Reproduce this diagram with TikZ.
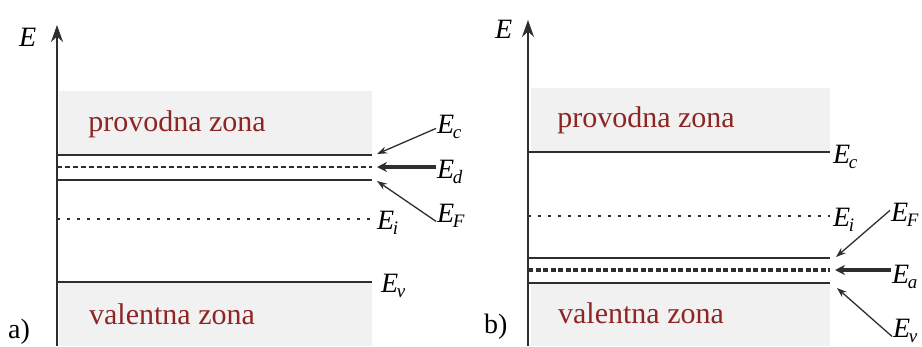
\documentclass[tikz,border=0pt]{standalone}
\usepackage{fontspec}
\setmainfont{Liberation Serif}
\usetikzlibrary{arrows.meta}
\definecolor{zonegray}{HTML}{F1F1F1}
\definecolor{zonered}{HTML}{8E2525}
\definecolor{linegray}{HTML}{2E2E2E}
\newcommand\elev[1]{\textit{E}\kern-1.5pt\raisebox{-5pt}{\fontsize{19}{22}\selectfont\itshape #1}}
\begin{document}
\begin{tikzpicture}[x=1pt,y=-1pt,
  zone/.style={fill=zonegray,draw=none},
  level/.style={line width=1.7pt,draw=linegray},
  dlevel/.style={line width=1.7pt,draw=linegray,dash pattern=on 5pt off 3pt},
  alevel/.style={line width=3.2pt,draw=linegray,dash pattern=on 5pt off 2.5pt},
  ilevel/.style={line width=1.2pt,draw=linegray,dash pattern=on 3pt off 7pt},
  axis/.style={line width=2.2pt,draw=linegray,-{Stealth[length=17pt,width=12pt]}},
  zonetext/.style={text=zonered,font=\fontsize{30}{34}\selectfont,inner sep=0pt},
  elabel/.style={font=\fontsize{28}{32}\selectfont,inner sep=1pt,anchor=base west},
  panel/.style={font=\fontsize{28}{32}\selectfont,inner sep=0pt,anchor=base west},
  ptr/.style={line width=1.3pt,draw=linegray,-{Stealth[length=10pt,width=7pt]}},
  thickptr/.style={line width=3.2pt,draw=linegray,-{Stealth[length=10pt,width=10pt]}}]
\useasboundingbox (0,0) rectangle (922,346);

% ---------- panel a ----------
\fill[zone] (59,91) rectangle (372,155);
\fill[zone] (59,282) rectangle (372,346);
\coordinate (aAx0) at (57,346);
\coordinate (aAx1) at (57,25);
\draw[axis] (aAx0) -- (aAx1);
\node[elabel] (aE) at (18,46) {\textit{E}};

\coordinate (aC0) at (57,155); \coordinate (aC1) at (372,155);
\coordinate (aD0) at (57,167); \coordinate (aD1) at (372,167);
\coordinate (aF0) at (57,180); \coordinate (aF1) at (372,180);
\coordinate (aI0) at (57,219); \coordinate (aI1) at (372,219);
\coordinate (aV0) at (57,282); \coordinate (aV1) at (372,282);
\draw[level] (aC0) -- (aC1);
\draw[dlevel] (aD0) -- (aD1);
\draw[level] (aF0) -- (aF1);
\draw[ilevel] (aI0) -- (aI1);
\draw[level] (aV0) -- (aV1);

\node[zonetext] (aCB) at (177,124) {provodna zona};
\node[zonetext] (aVB) at (172,314) {valentna zona};

\node[elabel] (aEc) at (436,133) {\elev{c}};
\node[elabel] (aEd) at (436,178) {\elev{d}};
\node[elabel] (aEF) at (436,222) {\elev{F}};
\node[elabel] (aEi) at (376,229) {\elev{i}};
\node[elabel] (aEv) at (380,292) {\elev{v}};

\coordinate (aCt) at (377,154);
\coordinate (aDt) at (377,167);
\coordinate (aFt) at (377,181);
\draw[ptr] ([yshift=-2pt]aEc.west) -- (aCt);
\draw[thickptr] (aEd.west |- aDt) -- (aDt);
\draw[ptr] ([yshift=-6pt]aEF.west) -- (aFt);

\node[panel] (aLab) at (8,338) {a)};

% ---------- panel b ----------
\fill[zone] (531,88) rectangle (830,152);
\fill[zone] (531,283) rectangle (830,346);
\coordinate (bAx0) at (528,346);
\coordinate (bAx1) at (528,20);
\draw[axis] (bAx0) -- (bAx1);
\node[elabel] (bE) at (494,38) {\textit{E}};

\coordinate (bC0) at (528,152); \coordinate (bC1) at (830,152);
\coordinate (bI0) at (528,216); \coordinate (bI1) at (830,216);
\coordinate (bF0) at (528,258); \coordinate (bF1) at (830,258);
\coordinate (bA0) at (528,270); \coordinate (bA1) at (830,270);
\coordinate (bV0) at (528,283); \coordinate (bV1) at (830,283);
\draw[level] (bC0) -- (bC1);
\draw[ilevel] (bI0) -- (bI1);
\draw[level] (bF0) -- (bF1);
\draw[alevel] (bA0) -- (bA1);
\draw[level] (bV0) -- (bV1);

\node[zonetext] (bCB) at (646,120) {provodna zona};
\node[zonetext] (bVB) at (641,313) {valentna zona};

\node[elabel] (bEc) at (832,163) {\elev{c}};
\node[elabel] (bEi) at (832,226) {\elev{i}};
\node[elabel] (bEF) at (890,221) {\elev{F}};
\node[elabel] (bEa) at (891,283) {\elev{a}};
\node[elabel] (bEv) at (892,337) {\elev{v}};

\coordinate (bFt) at (836,257);
\coordinate (bAt) at (835,270);
\coordinate (bVt) at (837,288);
\draw[ptr] ([yshift=4pt]bEF.west) -- (bFt);
\draw[thickptr] (bEa.west |- bAt) -- (bAt);
\draw[ptr] ([yshift=-6pt]bEv.west) -- (bVt);

\node[panel] (bLab) at (484,333) {b)};
\end{tikzpicture}
\end{document}
